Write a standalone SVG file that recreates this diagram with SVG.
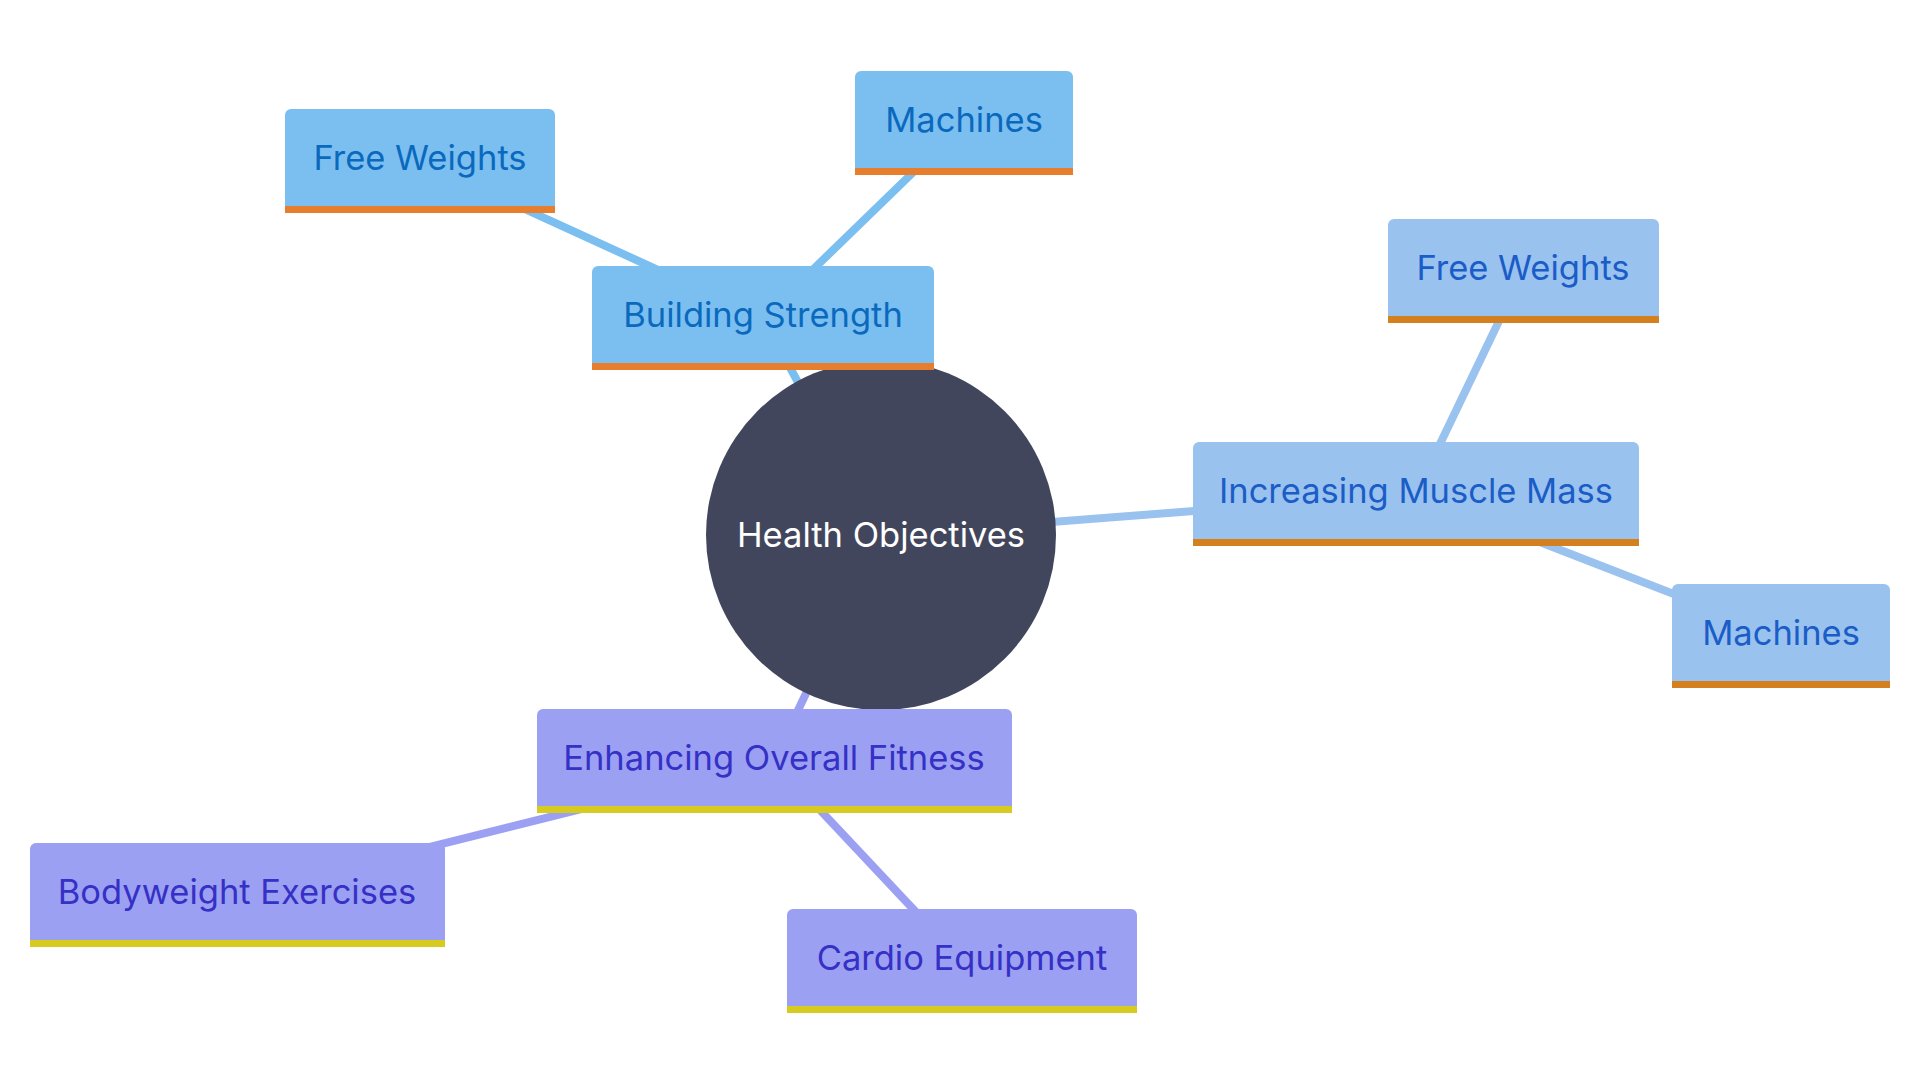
<svg xmlns="http://www.w3.org/2000/svg" width="1920" height="1080" viewBox="0 0 1920 1080">
<style>
text{font-family:Inter,"Noto Sans","Liberation Sans",sans-serif;font-size:34.5px;text-anchor:middle;dominant-baseline:central}
.e1{stroke:#7bbff1;stroke-width:8;fill:none}
.e2{stroke:#9ac2ef;stroke-width:8;fill:none}
.e3{stroke:#9ca0f2;stroke-width:8;fill:none}
.b1{fill:#7bbff1}.b2{fill:#9ac2ef}.b3{fill:#9ca0f2}
.s1{fill:#e67e2e}.s2{fill:#d4801f}.s3{fill:#d6cb1e}
.t1{fill:#0b69bd}.t2{fill:#1a5dc7}.t3{fill:#3530c6}
</style>
<rect width="1920" height="1080" fill="#ffffff"/>
<g id="connectors">
<line class="e1" x1="881" y1="535" x2="763" y2="318"/>
<line class="e1" x1="763" y1="318" x2="420" y2="161"/>
<line class="e1" x1="763" y1="318" x2="964" y2="123"/>
<line class="e2" x1="881" y1="535" x2="1416" y2="494"/>
<line class="e2" x1="1416" y1="494" x2="1523" y2="271"/>
<line class="e2" x1="1416" y1="494" x2="1782" y2="636"/>
<line class="e3" x1="881" y1="535" x2="774" y2="761"/>
<line class="e3" x1="774" y1="761" x2="237" y2="895"/>
<line class="e3" x1="774" y1="761" x2="962" y2="961"/>
</g>
<g id="root">
<circle cx="881" cy="535" r="175" fill="#42465c"/>
<text x="881" y="534" fill="#ffffff">Health Objectives</text>
</g>
<g id="building-strength">
<path class="b1" d="M592 370V272a6 6 0 0 1 6-6h330a6 6 0 0 1 6 6V370z"/>
<rect class="s1" x="592" y="363" width="342" height="7"/>
<text class="t1" x="763" y="314">Building Strength</text>
</g>
<g id="bs-free-weights">
<path class="b1" d="M285 213V115a6 6 0 0 1 6-6h258a6 6 0 0 1 6 6V213z"/>
<rect class="s1" x="285" y="206" width="270" height="7"/>
<text class="t1" x="420" y="157">Free Weights</text>
</g>
<g id="bs-machines">
<path class="b1" d="M855 175V77a6 6 0 0 1 6-6h206a6 6 0 0 1 6 6V175z"/>
<rect class="s1" x="855" y="168" width="218" height="7"/>
<text class="t1" x="964" y="119">Machines</text>
</g>
<g id="increasing-muscle-mass">
<path class="b2" d="M1193 546V448a6 6 0 0 1 6-6h434a6 6 0 0 1 6 6V546z"/>
<rect class="s2" x="1193" y="539" width="446" height="7"/>
<text class="t2" x="1416" y="490">Increasing Muscle Mass</text>
</g>
<g id="imm-free-weights">
<path class="b2" d="M1388 323V225a6 6 0 0 1 6-6h259a6 6 0 0 1 6 6V323z"/>
<rect class="s2" x="1388" y="316" width="271" height="7"/>
<text class="t2" x="1523" y="267">Free Weights</text>
</g>
<g id="imm-machines">
<path class="b2" d="M1672 688V590a6 6 0 0 1 6-6h206a6 6 0 0 1 6 6V688z"/>
<rect class="s2" x="1672" y="681" width="218" height="7"/>
<text class="t2" x="1781" y="632">Machines</text>
</g>
<g id="enhancing-overall-fitness">
<path class="b3" d="M537 813V715a6 6 0 0 1 6-6h463a6 6 0 0 1 6 6V813z"/>
<rect class="s3" x="537" y="806" width="475" height="7"/>
<text class="t3" x="774" y="757">Enhancing Overall Fitness</text>
</g>
<g id="bodyweight-exercises">
<path class="b3" d="M30 947V849a6 6 0 0 1 6-6h403a6 6 0 0 1 6 6V947z"/>
<rect class="s3" x="30" y="940" width="415" height="7"/>
<text class="t3" x="237" y="891">Bodyweight Exercises</text>
</g>
<g id="cardio-equipment">
<path class="b3" d="M787 1013V915a6 6 0 0 1 6-6h338a6 6 0 0 1 6 6V1013z"/>
<rect class="s3" x="787" y="1006" width="350" height="7"/>
<text class="t3" x="962" y="957">Cardio Equipment</text>
</g>
</svg>
